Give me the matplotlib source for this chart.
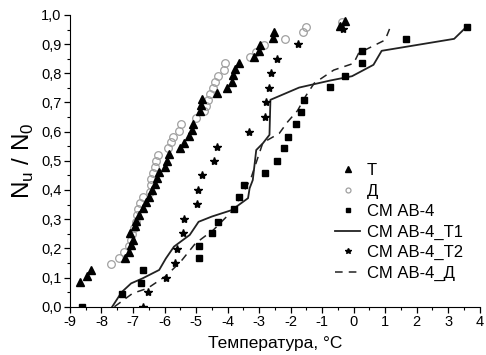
import matplotlib
matplotlib.use("Agg")
import matplotlib.pyplot as plt
from matplotlib.ticker import MultipleLocator, FuncFormatter

plt.rcParams['font.family'] = ['Liberation Sans', 'DejaVu Sans']

# Series T (triangles)
t_x = [-8.69, -8.46, -8.34, -7.24, -7.14, -7.08, -7.05, -7.0, -6.95, -6.9, -6.8, -6.68, -6.59,
       -6.49, -6.4, -6.3, -6.25, -6.17, -6.0, -5.93, -5.86, -5.51, -5.39, -5.21, -5.13, -5.1,
       -4.89, -4.84, -4.81, -4.33, -4.03, -3.87, -3.82, -3.75, -3.64, -3.17, -2.99, -2.96,
       -2.56, -2.53, -0.44, -0.26]
t_y = [0.086, 0.106, 0.126, 0.168, 0.189, 0.254, 0.21, 0.23, 0.275, 0.295, 0.315, 0.337, 0.358,
       0.377, 0.4, 0.42, 0.44, 0.461, 0.48, 0.5, 0.523, 0.543, 0.562, 0.585, 0.606, 0.626,
       0.671, 0.69, 0.711, 0.731, 0.751, 0.771, 0.794, 0.814, 0.836, 0.857, 0.878, 0.897,
       0.92, 0.94, 0.962, 0.98]

# Series Д (open circles)
d_x = [-7.69, -7.43, -7.3, -7.12, -7.06, -7.03, -6.96, -6.91, -6.87, -6.85, -6.78, -6.68, -6.47,
       -6.44, -6.42, -6.38, -6.3, -6.26, -6.2, -5.88, -5.81, -5.73, -5.55, -5.49, -5.0, -4.76,
       -4.69, -4.61, -4.55, -4.45, -4.39, -4.29, -4.1, -4.08, -3.3, -3.09, -2.85, -2.17,
       -1.62, -1.5, -0.37]
d_y = [0.146, 0.166, 0.189, 0.209, 0.229, 0.249, 0.27, 0.291, 0.314, 0.334, 0.354, 0.375, 0.394,
       0.417, 0.437, 0.459, 0.48, 0.5, 0.52, 0.543, 0.566, 0.583, 0.603, 0.625, 0.646, 0.669,
       0.689, 0.709, 0.729, 0.749, 0.771, 0.791, 0.811, 0.834, 0.855, 0.874, 0.897, 0.917,
       0.94, 0.96, 0.977]

# Series СМ АВ-4 (squares)
s_x = [-8.63, -7.36, -6.75, -6.68, -4.92, -4.92, -4.5, -4.31, -3.8, -3.63, -3.47, -2.8, -2.44,
       -2.2, -2.07, -1.83, -1.67, -1.59, -0.75, -0.26, 0.26, 0.26, 1.67, 3.59]
s_y = [0.0, 0.043, 0.082, 0.126, 0.166, 0.208, 0.252, 0.292, 0.334, 0.377, 0.417, 0.459, 0.5,
       0.543, 0.583, 0.626, 0.666, 0.709, 0.752, 0.792, 0.834, 0.877, 0.918, 0.96]

# Series СМ АВ-4_Т1 (solid line)
l1_x = [-7.66, -7.36, -7.06, -6.7, -6.17, -5.96, -5.7, -5.2, -4.92, -4.5, -3.87, -3.35, -3.3,
        -3.2, -3.09, -2.88, -2.67, -2.64, -1.73, -0.75, -0.05, 0.63, 0.89, 3.19, 3.59]
l1_y = [0.0, 0.05, 0.08, 0.097, 0.126, 0.165, 0.206, 0.246, 0.291, 0.309, 0.331, 0.372, 0.406,
        0.434, 0.537, 0.56, 0.589, 0.709, 0.751, 0.775, 0.79, 0.829, 0.877, 0.918, 0.96]

# Series СМ АВ-4_Т2 (stars)
st_x = [-6.68, -6.51, -5.96, -5.67, -5.6, -5.42, -5.39, -4.97, -4.94, -4.81, -4.42, -4.34,
        -3.33, -2.8, -2.77, -2.69, -2.62, -2.43, -1.78, -0.33]
st_y = [0.0, 0.049, 0.1, 0.151, 0.198, 0.252, 0.3, 0.351, 0.4, 0.451, 0.5, 0.549,
        0.6, 0.649, 0.7, 0.751, 0.8, 0.849, 0.9, 0.951]

# Series СМ АВ-4_Д (dashed line)
l2_x = [-7.59, -7.01, -6.54, -5.96, -5.49, -5.02, -4.45, -3.87, -3.4, -3.24, -2.88, -2.36,
        -2.09, -1.78, -1.52, -1.25, -0.63, 0.0, 0.16, 1.0, 1.17]
l2_y = [0.0, 0.046, 0.063, 0.105, 0.154, 0.217, 0.263, 0.326, 0.411, 0.446, 0.562, 0.594,
        0.634, 0.672, 0.722, 0.766, 0.811, 0.834, 0.869, 0.914, 0.96]

fig = plt.figure(figsize=(4.86, 3.55), dpi=100)
ax = fig.add_axes([0.144, 0.136, 0.843, 0.822])

ax.plot(t_x, t_y, linestyle='none', marker='^', color='black', markersize=6, label='Т', zorder=3)
ax.plot(d_x, d_y, linestyle='none', marker='o', markerfacecolor='none', markeredgecolor='#a0a0a0',
        markersize=5.5, markeredgewidth=0.9, label='Д', zorder=2)
ax.plot(s_x, s_y, linestyle='none', marker='s', color='black', markersize=4.5, label='СМ АВ-4', zorder=3)
ax.plot(l1_x, l1_y, linestyle='-', color='#222222', linewidth=1.3, label='СМ АВ-4_Т1', zorder=2)
ax.plot(st_x, st_y, linestyle='none', marker='*', color='black', markersize=6, label='СМ АВ-4_Т2', zorder=3)
ax.plot(l2_x, l2_y, linestyle=(0, (5, 4)), color='#222222', linewidth=1.1, label='СМ АВ-4_Д', zorder=2)

ax.set_xlim(-9, 4)
ax.set_ylim(0, 1.0)
ax.xaxis.set_major_locator(MultipleLocator(1))
ax.xaxis.set_minor_locator(MultipleLocator(0.5))
ax.yaxis.set_major_locator(MultipleLocator(0.1))
ax.yaxis.set_minor_locator(MultipleLocator(0.05))
ax.yaxis.set_major_formatter(FuncFormatter(lambda v, p: f"{v:.1f}".replace('.', ',')))
ax.xaxis.set_major_formatter(FuncFormatter(lambda v, p: f"{int(round(v))}"))

ax.spines['top'].set_visible(False)
ax.spines['right'].set_visible(False)
ax.tick_params(which='major', direction='out', length=4, width=0.9, labelsize=10.5, pad=2)
ax.tick_params(which='minor', direction='out', length=2, width=0.8)

ax.set_xlabel('Температура, °С', fontsize=12.5, labelpad=5)
ax.set_ylabel(r'N$_\mathregular{u}$ / N$_\mathregular{0}$', fontsize=17.5, labelpad=4)

leg = ax.legend(loc='upper left', bbox_to_anchor=(335 / 486, 1 - 163 / 355),
                bbox_transform=fig.transFigure, frameon=False, fontsize=12,
                handlelength=1.5, handletextpad=0.4, labelspacing=0.33, markerscale=0.65,
                borderpad=0, borderaxespad=0)

fig.savefig('out.png', dpi=100)
